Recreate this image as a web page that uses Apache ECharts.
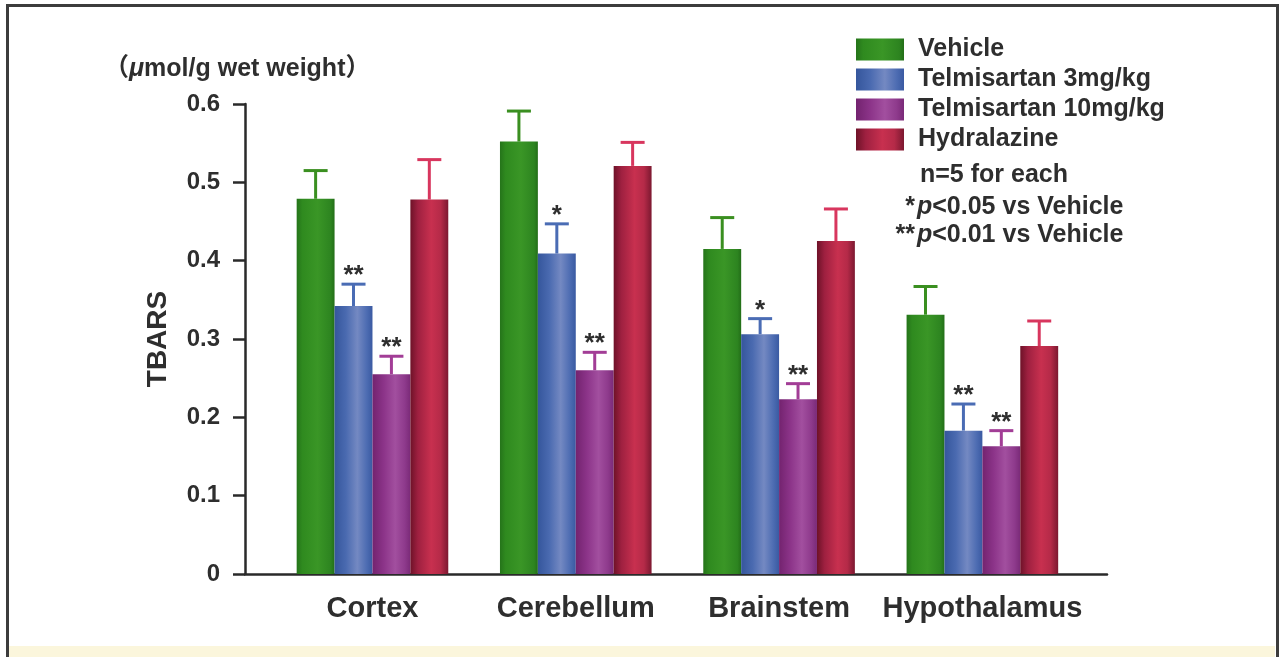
<!DOCTYPE html>
<html>
<head>
<meta charset="utf-8">
<script src="https://cdn.jsdelivr.net/npm/echarts@6/dist/echarts.min.js"></script>
<style>
html,body{margin:0;padding:0;background:#fff;width:1280px;height:657px;overflow:hidden;}
#frame{position:absolute;left:6px;top:4px;width:1267px;height:700px;border:3px solid #3c3c3c;border-bottom:none;}
#band{position:absolute;left:9px;top:646px;width:1266px;height:11px;background:#fbf6dc;}
#chart{position:absolute;left:0;top:0;width:1280px;height:657px;}
</style>
</head>
<body>
<div id="frame"></div>
<div id="band"></div>
<div id="chart"></div>
<script>
// ---- data ----
const categories = ['Cortex', 'Cerebellum', 'Brainstem', 'Hypothalamus'];
const groups = ['Vehicle', 'Telmisartan 3mg/kg', 'Telmisartan 10mg/kg', 'Hydralazine'];
const vehicleMean = [0.479, 0.552, 0.415, 0.331];
const vehicleErrTop = [0.515, 0.591, 0.455, 0.367];
const telmi3Mean = [0.342, 0.409, 0.306, 0.183];
const telmi3ErrTop = [0.370, 0.447, 0.326, 0.217];
const telmi10Mean = [0.255, 0.260, 0.223, 0.163];
const telmi10ErrTop = [0.278, 0.283, 0.243, 0.183];
const hydraMean = [0.478, 0.521, 0.425, 0.291];
const hydraErrTop = [0.529, 0.551, 0.466, 0.323];
const vehicleSig = ['', '', '', ''];
const telmi3Sig = ['**', '*', '*', '**'];
const telmi10Sig = ['**', '**', '**', '**'];
const hydraSig = ['', '', '', ''];
const yTicks = [0, 0.1, 0.2, 0.3, 0.4, 0.5, 0.6];

const means = [vehicleMean, telmi3Mean, telmi10Mean, hydraMean];
const errs = [vehicleErrTop, telmi3ErrTop, telmi10ErrTop, hydraErrTop];
const sigs = [vehicleSig, telmi3Sig, telmi10Sig, hydraSig];

// ---- styles ----
const LG = echarts.graphic.LinearGradient;
const fills = [
  new LG(0,0,1,0,[{offset:0,color:'#25741a'},{offset:0.15,color:'#2f8a1f'},{offset:0.55,color:'#3a9626'},{offset:0.9,color:'#2d8420'},{offset:1,color:'#236e18'}]),
  new LG(0,0,1,0,[{offset:0,color:'#35569c'},{offset:0.3,color:'#4a6ab0'},{offset:0.6,color:'#7489c2'},{offset:0.85,color:'#4d6cb2'},{offset:1,color:'#3a5aa2'}]),
  new LG(0,0,1,0,[{offset:0,color:'#73236f'},{offset:0.3,color:'#8c3489'},{offset:0.6,color:'#a24f9f'},{offset:0.85,color:'#8e3a8c'},{offset:1,color:'#7a2a78'}]),
  new LG(0,0,1,0,[{offset:0,color:'#6e1228'},{offset:0.2,color:'#9e2040'},{offset:0.55,color:'#c8304f'},{offset:0.8,color:'#b52a48'},{offset:1,color:'#7c1830'}])
];
const errColors = ['#3a8f20', '#4a6cb4', '#a23d96', '#d8365e'];
const barPx = 37.9;
const FONT = '"Liberation Sans", Arial, Helvetica, sans-serif';

const series = groups.map((name, k) => ({
  name: name,
  type: 'custom',
  itemStyle: {color: fills[k]},
  data: categories.map((c, i) => [i, means[k][i], errs[k][i], sigs[k][i]]),
  encode: {x: 0, y: [1, 2]},
  renderItem: function (params, api) {
    const i = api.value(0);
    const base = api.coord([i, 0]);
    const top = api.coord([i, api.value(1)]);
    const et = api.coord([i, api.value(2)]);
    const cx = base[0] + (k - 1.5) * barPx;
    const sig = sigs[k][i];
    const children = [
      {type: 'line', shape: {x1: cx, y1: top[1], x2: cx, y2: et[1]}, style: {stroke: errColors[k], lineWidth: 3}},
      {type: 'line', shape: {x1: cx - 12, y1: et[1], x2: cx + 12, y2: et[1]}, style: {stroke: errColors[k], lineWidth: 3}},
      {type: 'rect', shape: {x: cx - barPx / 2, y: top[1], width: barPx, height: base[1] - top[1]}, style: {fill: fills[k]}}
    ];
    if (sig) {
      children.push({type: 'text', x: cx, y: et[1] - 8, style: {text: sig, fill: '#2e2e2e', font: 'bold 26px ' + FONT, align: 'center', verticalAlign: 'middle'}});
    }
    return {type: 'group', children: children};
  }
}));

const richP = {i: {fontStyle: 'italic', fontWeight: 'bold', fontSize: 25, fontFamily: FONT, fill: '#2e2e2e'}};

const chart = echarts.init(document.getElementById('chart'));
chart.setOption({
  backgroundColor: 'transparent',
  animation: false,
  grid: {left: 245, right: 173, top: 104, bottom: 83},
  xAxis: {
    type: 'value', min: -0.627, max: 3.613,
    splitLine: {show: false},
    axisTick: {show: false},
    axisLine: {show: true, onZero: false, lineStyle: {color: '#2a2a2a', width: 2.5}},
    axisLabel: {
      customValues: [0, 1, 2, 3],
      formatter: v => categories[Math.round(v)] || '',
      margin: 20, color: '#2e2e2e', fontSize: 29, fontWeight: 'bold', fontFamily: FONT
    }
  },
  yAxis: {
    type: 'value', min: 0, max: 0.6, interval: 0.1,
    name: 'TBARS', nameLocation: 'middle', nameRotate: 90, nameGap: 73,
    nameTextStyle: {color: '#2e2e2e', fontSize: 28, fontWeight: 'bold', fontFamily: FONT},
    splitLine: {show: false},
    axisLine: {show: true, onZero: false, lineStyle: {color: '#2a2a2a', width: 2.5}},
    axisTick: {show: true, inside: false, length: 12, lineStyle: {color: '#2a2a2a', width: 2.5}},
    axisLabel: {
      formatter: v => { const t = yTicks.find(y => Math.abs(y - v) < 1e-9); return t === 0 ? '0' : (t !== undefined ? t.toFixed(1) : ''); },
      margin: 25, color: '#2e2e2e', fontSize: 24, fontWeight: 'bold', fontFamily: FONT
    }
  },
  legend: {
    orient: 'vertical', left: 856, top: 37, icon: 'rect', padding: 0,
    itemWidth: 48, itemHeight: 22, itemGap: 5,
    data: groups,
    textStyle: {color: '#2e2e2e', fontSize: 25, fontWeight: 'bold', fontFamily: FONT, padding: [0, 0, 0, 9]}
  },
  graphic: [
    {type: 'text', left: 104, top: 57, style: {text: '（{i|μ}mol/g wet weight）', fill: '#2e2e2e', font: 'bold 25px "Liberation Sans", "Noto Sans CJK SC", sans-serif', rich: {i: {fontStyle: 'italic', fontWeight: 'bold', fontSize: 25, fontFamily: FONT, fill: '#2e2e2e'}}}},
    {type: 'text', x: 920, y: 175, style: {text: 'n=5 for each', fill: '#2e2e2e', font: 'bold 25px ' + FONT, verticalAlign: 'middle'}},
    {type: 'text', x: 915, y: 207, style: {text: '*', fill: '#2e2e2e', font: 'bold 25px ' + FONT, align: 'right', verticalAlign: 'middle'}},
    {type: 'text', x: 917, y: 207, style: {text: '{i|p}<0.05 vs Vehicle', fill: '#2e2e2e', font: 'bold 25px ' + FONT, verticalAlign: 'middle', rich: richP}},
    {type: 'text', x: 915, y: 235, style: {text: '**', fill: '#2e2e2e', font: 'bold 25px ' + FONT, align: 'right', verticalAlign: 'middle'}},
    {type: 'text', x: 917, y: 235, style: {text: '{i|p}<0.01 vs Vehicle', fill: '#2e2e2e', font: 'bold 25px ' + FONT, verticalAlign: 'middle', rich: richP}}
  ],
  series: series
});
</script>
</body>
</html>
